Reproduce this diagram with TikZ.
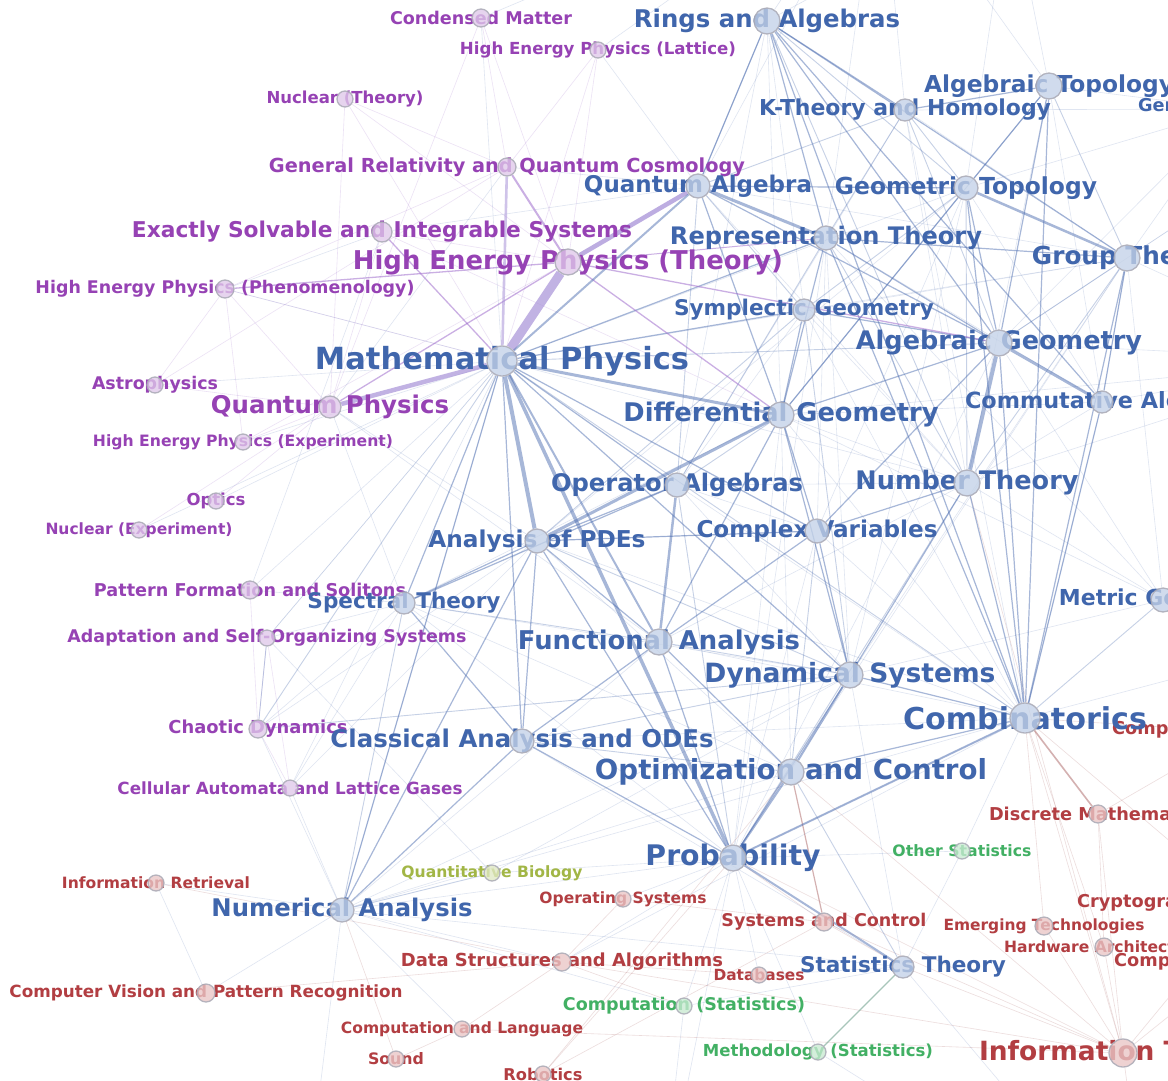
\documentclass[tikz,border=0pt]{standalone}
\usepackage{fontspec}
\setmainfont{DejaVu Sans}
\usepackage{graphicx}
\pgfdeclarelayer{back}
\pgfdeclarelayer{bg}
\pgfsetlayers{back,bg,main}
\definecolor{Bt}{RGB}{64,102,172}
\definecolor{Bd}{RGB}{196,210,232}
\definecolor{Pt}{RGB}{150,66,180}
\definecolor{Pd}{RGB}{224,200,234}
\definecolor{Rt}{RGB}{178,62,66}
\definecolor{Rd}{RGB}{234,198,198}
\definecolor{Gt}{RGB}{66,176,100}
\definecolor{Gd}{RGB}{200,234,210}
\definecolor{Ot}{RGB}{162,182,70}
\definecolor{Od}{RGB}{224,232,196}
\definecolor{Dl}{RGB}{170,170,182}
\definecolor{Eb}{RGB}{80,112,178}
\definecolor{Ep}{RGB}{160,110,205}
\definecolor{El}{RGB}{168,146,216}
\definecolor{Er}{RGB}{170,100,100}
\definecolor{Eg}{RGB}{110,160,140}
\tikzset{
  lbl/.style={inner sep=0pt,font=\bfseries},
  offlbl/.style={inner sep=0pt,anchor=west,font=\bfseries\fontsize{17.7}{18}\selectfont},
  dot/.style={circle,inner sep=0pt,draw=Dl,line width=1.3pt,fill opacity=.78,draw opacity=.85},
  e1/.style={draw=Eb,line width=.6pt,draw opacity=.18},
  e2/.style={draw=Eb,line width=.9pt,draw opacity=.32},
  e3/.style={draw=Eb,line width=1.2pt,draw opacity=.5},
  e4/.style={draw=Eb,draw opacity=.5},
  p1/.style={draw=Ep,line width=.6pt,draw opacity=.2},
  p2/.style={draw=Ep,line width=1.3pt,draw opacity=.55},
  r1/.style={draw=Er,line width=.6pt,draw opacity=.22},
  r2/.style={draw=Er,line width=1.2pt,draw opacity=.5},
}
\newcommand\nd[7]{%
  \node[lbl,text=#5t] (#1-l) at (#2,#3) {\resizebox{#6pt}{!}{#7}};
  \node[dot,fill=#5d,minimum size=2*#4] (#1) at (#2,#3) {};}
\begin{document}
\begin{tikzpicture}[x=1pt,y=-1pt]
\path[use as bounding box] (0,0) rectangle (1168,1080);
\clip (0,0) rectangle (1168,1080);
\begin{pgfonlayer}{back}
\fill[white] (0,0) rectangle (1168,1080);
\end{pgfonlayer}
% off-screen anchors
\coordinate (x1) at (880,-150);
\coordinate (x2) at (1010,-110);
\coordinate (x3) at (1320,130);
\coordinate (x4) at (1350,360);
\coordinate (x5) at (1320,640);
\coordinate (x6) at (660,1220);
\coordinate (x7) at (1150,1260);
\coordinate (x8) at (300,1250);
\coordinate (cc) at (1240,732);
\coordinate (cr) at (1245,905);
\coordinate (ce) at (1235,963);
\coordinate (gtop) at (1232,109);
% physics
\nd{cm}{481}{18}{9}{P}{182}{Condensed Matter}
\nd{hepl}{598}{50}{8}{P}{276}{High Energy Physics (Lattice)}
\nd{nt}{345}{99}{8}{P}{157}{Nuclear (Theory)}
\nd{gr}{507}{167}{9}{P}{476}{General Relativity and Quantum Cosmology}
\nd{es}{382}{232}{10}{P}{500}{Exactly Solvable and Integrable Systems}
\nd{heph}{225}{289}{9}{P}{379}{High Energy Physics (Phenomenology)}
\nd{hept}{568}{262}{13}{P}{430}{High Energy Physics (Theory)}
\nd{ap}{155}{385}{8}{P}{126}{Astrophysics}
\nd{qp}{330}{407}{11}{P}{238}{Quantum Physics}
\nd{hepe}{243}{442}{8}{P}{300}{High Energy Physics (Experiment)}
\nd{op}{216}{501}{8}{P}{59}{Optics}
\nd{ne}{139}{530}{8}{P}{187}{Nuclear (Experiment)}
\nd{pf}{250}{590}{9}{P}{312}{Pattern Formation and Solitons}
\nd{ad}{267}{638}{8}{P}{399}{Adaptation and Self-Organizing Systems}
\nd{cd}{258}{729}{9}{P}{179}{Chaotic Dynamics}
\nd{ca}{290}{788}{8}{P}{345}{Cellular Automata and Lattice Gases}
% others
\nd{qb}{492}{873}{8}{O}{181}{Quantitative Biology}
\nd{ir}{156}{883}{8}{R}{188}{Information Retrieval}
\nd{os}{623}{899}{8}{R}{167}{Operating Systems}
\nd{cv}{206}{993}{9}{R}{393}{Computer Vision and Pattern Recognition}
\nd{ds}{562}{962}{9}{R}{322}{Data Structures and Algorithms}
\nd{cl}{462}{1029}{8}{R}{242}{Computation and Language}
\nd{so}{396}{1059}{8}{R}{56}{Sound}
\nd{ro}{543}{1074}{8}{R}{79}{Robotics}
\nd{cs}{684}{1006}{8}{G}{242}{Computation (Statistics)}
\nd{me}{818}{1052}{8}{G}{230}{Methodology (Statistics)}
\nd{db}{759}{975}{8}{R}{91}{Databases}
\nd{sc}{824}{922}{9}{R}{205}{Systems and Control}
\nd{ost}{962}{851}{8}{G}{139}{Other Statistics}
\nd{dm}{1098}{814}{9}{R}{218}{Discrete Mathematics}
\nd{et}{1044}{926}{9}{R}{201}{Emerging Technologies}
\nd{ha}{1104}{947}{9}{R}{200}{Hardware Architecture}
\nd{it}{1123}{1053}{14}{R}{288}{Information Theory}
\node[offlbl,text=Rt] (cc-l) at (1112,730) {Computational Complexity};
\node[offlbl,text=Rt] (cr-l) at (1077,903) {Cryptography and Security};
\node[offlbl,text=Rt] (ce-l) at (1114,962) {Computational Engineering};
\node[offlbl,text=Bt] (gtop-l) at (1138,107) {General Topology};
% mathematics
\nd{stt}{903}{967}{11}{B}{206}{Statistics Theory}
\nd{na}{342}{910}{12}{B}{261}{Numerical Analysis}
\nd{st}{404}{603}{11}{B}{193}{Spectral Theory}
\nd{cao}{522}{741}{12}{B}{383}{Classical Analysis and ODEs}
\nd{pr}{733}{858}{13}{B}{175}{Probability}
\nd{oc}{791}{772}{13}{B}{392}{Optimization and Control}
\nd{dy}{850}{675}{13}{B}{291}{Dynamical Systems}
\nd{co}{1025}{718}{15}{B}{244}{Combinatorics}
\nd{fa}{659}{642}{13}{B}{282}{Functional Analysis}
\nd{pde}{537}{541}{12}{B}{217}{Analysis of PDEs}
\nd{cxv}{817}{531}{12}{B}{241}{Complex Variables}
\nd{oa}{677}{485}{12}{B}{252}{Operator Algebras}
\nd{nth}{967}{483}{13}{B}{223}{Number Theory}
\nd{dg}{781}{415}{13}{B}{315}{Differential Geometry}
\nd{ca2}{1102}{402}{11}{B}{274}{Commutative Algebra}
\nd{ag}{999}{343}{13}{B}{286}{Algebraic Geometry}
\nd{sg}{804}{310}{11}{B}{260}{Symplectic Geometry}
\nd{rt}{826}{238}{12}{B}{312}{Representation Theory}
\nd{grt}{1127}{258}{13}{B}{190}{Group Theory}
\nd{qa}{698}{186}{12}{B}{228}{Quantum Algebra}
\nd{gt}{966}{188}{12}{B}{262}{Geometric Topology}
\nd{at}{1049}{86}{13}{B}{250}{Algebraic Topology}
\nd{kt}{905}{110}{11}{B}{292}{K-Theory and Homology}
\nd{ra}{767}{21}{13}{B}{266}{Rings and Algebras}
\nd{mg}{1163}{600}{12}{B}{208}{Metric Geometry}
\nd{mp}{502}{361}{15}{B}{374}{Mathematical Physics}
\begin{pgfonlayer}{bg}
\clip (0,0) rectangle (1168,1080);
% faint texture
\foreach \a/\b in {mp/hepe,mp/ap,mp/heph,mp/na,mp/ca,mp/pf,mp/ne,mp/op,mp/cm,mp/ad,
  hepl/qa,gr/qa,gr/qp,es/qa,es/pf,heph/es,qp/pde,qp/st,qp/fa,
  pf/st,ad/qb,ca/na,ca/st,qb/pr,qb/dy,ir/na,cv/na,cl/na,cs/na,na/oc,na/pr,na/dy,na/co,na/stt,
  os/pr,ds/co,ds/na,ds/pr,cs/pr,cs/stt,me/pr,db/stt,db/pr,ost/stt,ost/pr,ost/co,
  mg/dg,mg/grt,mg/ag,grt/dy,grt/pr,ca2/nth,ca2/rt,ca2/grt,ca2/dg,at/nth,kt/nth,kt/oa,kt/co,
  ra/oa,ra/dg,ra/sg,gt/pde,gt/dy,gt/cxv,rt/dy,rt/pr,rt/cxv,sg/oa,sg/nth,sg/co,
  dg/nth,dg/co,dg/st,dg/pr,oa/cxv,oa/dy,oa/nth,cxv/co,cxv/pr,pde/oc,pde/co,fa/co,fa/na,
  st/dy,st/pr,cao/co,dy/stt,cd/st,cd/pde,cd/na,ca/pde,ad/st,ad/mp,
  ra/x1,ra/x2,at/x1,at/x2,kt/x1,gt/x2,ag/x3,grt/x3,grt/x4,co/x5,ca2/x4,mg/x5,
  qa/x1,rt/x1,dg/x4,nth/x4,ag/x4,hepl/x1,cm/x1,pr/x6,stt/x7,na/x8,cs/x6,me/x7,
  sg/grt,rt/mg,nth/mg,co/ca2,oa/co,ag/pr,at/ca2,kt/grt,gt/ca2,qa/grt,qa/nth,
  mp/nth,mp/gt,mp/grt,pde/cxv,fa/nth,dg/oc,cao/stt,st/oc,pr/co,ir/cv,dy/mg,
  at/gtop,grt/gtop,kt/gtop,gt/gtop,ag/gtop}
  \draw[e1] (\a) -- (\b);
\foreach \a/\b in {cm/hept,cm/qp,hepl/hept,hepl/mp,nt/hept,nt/qp,nt/mp,gr/ap,gr/heph,
  es/hept,es/qp,heph/qp,heph/ap,hepe/qp,hepe/heph,op/qp,ne/qp,pf/cd,ad/cd,ad/ca,ca/cd,
  cm/gr,nt/gr,hepl/gr,hepe/hept,ap/qp,es/dg,heph/mp}
  \draw[p1] (\a) -- (\b);
\foreach \a/\b in {ds/it,ds/cs,cv/ds,cl/it,so/cl,ro/oc,ro/sc,db/ds,sc/pr,sc/it,oc/it,pr/it,
  stt/it,et/it,ha/it,dm/it,co/et,co/ha,nth/it,co/it,it/cr,it/ce,co/cr,dm/cc,co/cc,it/x7,
  os/ds,ir/ds,so/na,ro/pr,cl/ds,dm/ha,sc/stt,os/sc}
  \draw[r1] (\a) -- (\b);
% light
\foreach \a/\b in {mp/co,mp/ag,mp/cd,at/grt,kt/ag,gt/nth,rt/nth,rt/oa,ag/grt,grt/nth,
  sg/pde,dg/oa,oa/pr,nth/pr,cxv/oc,pde/dy,fa/st,fa/dy,st/na,cao/dy,cao/oc,co/mg,
  oc/stt,na/qb,cd/ad,cd/dy,ra/nth,ra/gt,ra/qa,at/dg,kt/gt,kt/rt,gt/sg,sg/dy,qa/sg,qa/oa,qa/kt}
  \draw[e2] (\a) -- (\b);
% medium
\foreach \a/\b in {mp/st,mp/cao,mp/dy,mp/rt,mp/sg,mp/oa,mp/cxv,qa/ra,qa/gt,qa/ag,qa/dg,
  ra/rt,ra/kt,ra/ag,ra/ca2,ra/grt,ra/co,at/gt,at/kt,at/ag,at/co,gt/dg,gt/ag,gt/co,
  rt/ag,rt/grt,rt/co,rt/dg,ag/dg,ag/sg,ag/cxv,ag/co,grt/co,grt/ca2,sg/dg,dg/cxv,dg/dy,dg/fa,
  oa/pde,oa/st,nth/co,nth/cxv,nth/dy,ca2/co,cxv/dy,cxv/fa,cxv/pde,pde/fa,pde/st,pde/cao,
  pde/pr,pde/na,fa/cao,fa/oc,fa/pr,st/cao,cao/pr,cao/na,dy/pr,dy/co,co/oc,mp/na}
  \draw[e3] (\a) -- (\b);
\draw[p2] (hept) -- (dg);
\draw[p2] (es) -- (mp);
\draw[p2] (qp) -- (hept);
\draw[p2] (heph) -- (hept);
\draw[p2] (hept) -- (ag);
\draw[p2,line width=2pt] (gr) -- (hept);
\draw[p2,line width=2.6pt,draw=El] (gr) -- (mp);
\draw[p2,line width=1pt] (hept) -- (rt);
\draw[draw=Eg,line width=1.2pt,draw opacity=.6] (stt) -- (me);
\draw[r2] (oc) -- (sc);
\draw[r2,line width=1.6pt] (co) -- (dm);
% strong
\draw[draw=El,line width=9pt,draw opacity=.7] (mp) -- (hept);
\draw[draw=El,line width=4.5pt,draw opacity=.7] (mp) -- (qp);
\draw[draw=El,line width=4.5pt,draw opacity=.75] (hept) -- (qa);
\draw[e4,line width=4pt] (mp) -- (pde);
\draw[e4,line width=3.5pt] (mp) -- (pr);
\draw[e4,line width=3pt] (mp) -- (dg);
\draw[e4,line width=3pt] (dg) -- (pde);
\draw[e4,line width=4pt] (ag) -- (nth);
\draw[e4,line width=3pt] (ag) -- (ca2);
\draw[e4,line width=3pt] (qa) -- (rt);
\draw[e4,line width=2.5pt] (gt) -- (grt);
\draw[e4,line width=2.5pt] (oa) -- (fa);
\draw[e4,line width=2pt] (mp) -- (qa);
\draw[e4,line width=2pt] (mp) -- (fa);
\draw[e4,line width=2pt] (co) -- (pr);
\draw[e4,line width=2pt] (oc) -- (pr);
\draw[e4,line width=2pt] (dy) -- (oc);
\draw[e4,line width=2pt] (pr) -- (stt);
\end{pgfonlayer}
\end{tikzpicture}
\end{document}
